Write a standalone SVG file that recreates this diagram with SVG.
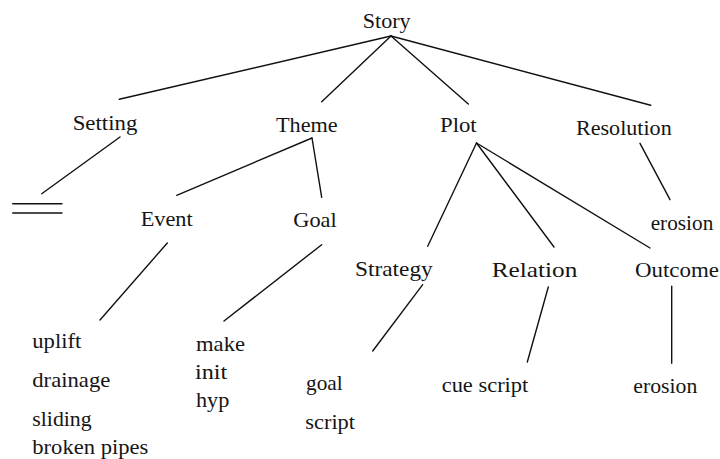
<svg xmlns="http://www.w3.org/2000/svg" width="720" height="459" viewBox="0 0 720 459">
<style>
text{font-family:'Liberation Serif','DejaVu Serif',serif;font-size:21px;fill:#151515;}
.c line{stroke:#111;stroke-width:1.4;stroke-linecap:round;}
</style>
<rect width="720" height="459" fill="#fff"/>
<g class="c" id="connectors">
<line x1="391" y1="36" x2="119.3" y2="99.3"/>
<line x1="391" y1="36" x2="321.7" y2="101.7"/>
<line x1="391" y1="36" x2="468.3" y2="104"/>
<line x1="391" y1="36" x2="650.7" y2="105.3"/>
<line x1="120" y1="137" x2="41.7" y2="193.7"/>
<line x1="312" y1="138" x2="176.7" y2="195.3"/>
<line x1="312" y1="138" x2="321.7" y2="197.3"/>
<line x1="476.5" y1="143" x2="427.7" y2="246.3"/>
<line x1="476.5" y1="143" x2="554" y2="247"/>
<line x1="476.5" y1="143" x2="650" y2="248"/>
<line x1="640" y1="143.3" x2="670" y2="199.7"/>
<line x1="167.3" y1="243" x2="100" y2="320"/>
<line x1="321.7" y1="244.7" x2="224" y2="321"/>
<line x1="422.7" y1="284.7" x2="372.7" y2="351"/>
<line x1="548.3" y1="287" x2="527.3" y2="362"/>
<line x1="671.7" y1="286.3" x2="671.7" y2="363.3"/>
</g>
<g id="story"><text x="362.7" y="28" textLength="48" lengthAdjust="spacingAndGlyphs">Story</text></g>
<g id="setting"><text x="72.7" y="130" textLength="64.6" lengthAdjust="spacingAndGlyphs">Setting</text></g>
<g id="setting-empty" class="c"><line x1="12.7" y1="203.7" x2="62" y2="203.7"/><line x1="12.7" y1="213" x2="62" y2="213"/></g>
<g id="theme"><text x="276" y="131.5" textLength="61.7" lengthAdjust="spacingAndGlyphs">Theme</text></g>
<g id="plot"><text x="440" y="131.5" textLength="36.7" lengthAdjust="spacingAndGlyphs">Plot</text></g>
<g id="resolution"><text x="576" y="135" textLength="95.7" lengthAdjust="spacingAndGlyphs">Resolution</text></g>
<g id="event"><text x="140.7" y="225.7" textLength="52" lengthAdjust="spacingAndGlyphs">Event</text></g>
<g id="goal"><text x="293.3" y="227" textLength="43.4" lengthAdjust="spacingAndGlyphs">Goal</text></g>
<g id="resolution-erosion"><text x="650.7" y="230.3" textLength="62.6" lengthAdjust="spacingAndGlyphs">erosion</text></g>
<g id="strategy"><text x="355" y="275.7" textLength="77.7" lengthAdjust="spacingAndGlyphs">Strategy</text></g>
<g id="relation"><text x="491.7" y="277" textLength="85.6" lengthAdjust="spacingAndGlyphs">Relation</text></g>
<g id="outcome"><text x="635" y="277" textLength="84" lengthAdjust="spacingAndGlyphs">Outcome</text></g>
<g id="event-items">
<text x="32.3" y="348" textLength="49" lengthAdjust="spacingAndGlyphs">uplift</text>
<text x="32.3" y="387" textLength="78" lengthAdjust="spacingAndGlyphs">drainage</text>
<text x="32.3" y="426" textLength="59.4" lengthAdjust="spacingAndGlyphs">sliding</text>
<text x="32.3" y="454.3" textLength="116" lengthAdjust="spacingAndGlyphs">broken pipes</text>
</g>
<g id="goal-items">
<text x="196" y="351" textLength="49" lengthAdjust="spacingAndGlyphs">make</text>
<text x="195" y="378.7" textLength="32.3" lengthAdjust="spacingAndGlyphs">init</text>
<text x="196" y="407" textLength="33.3" lengthAdjust="spacingAndGlyphs">hyp</text>
</g>
<g id="strategy-items">
<text x="306" y="390.3" textLength="36.7" lengthAdjust="spacingAndGlyphs">goal</text>
<text x="305.3" y="428.7" textLength="49.7" lengthAdjust="spacingAndGlyphs">script</text>
</g>
<g id="relation-item"><text x="441.7" y="392" textLength="86.6" lengthAdjust="spacingAndGlyphs">cue script</text></g>
<g id="outcome-item"><text x="633.3" y="393.3" textLength="64" lengthAdjust="spacingAndGlyphs">erosion</text></g>
</svg>
